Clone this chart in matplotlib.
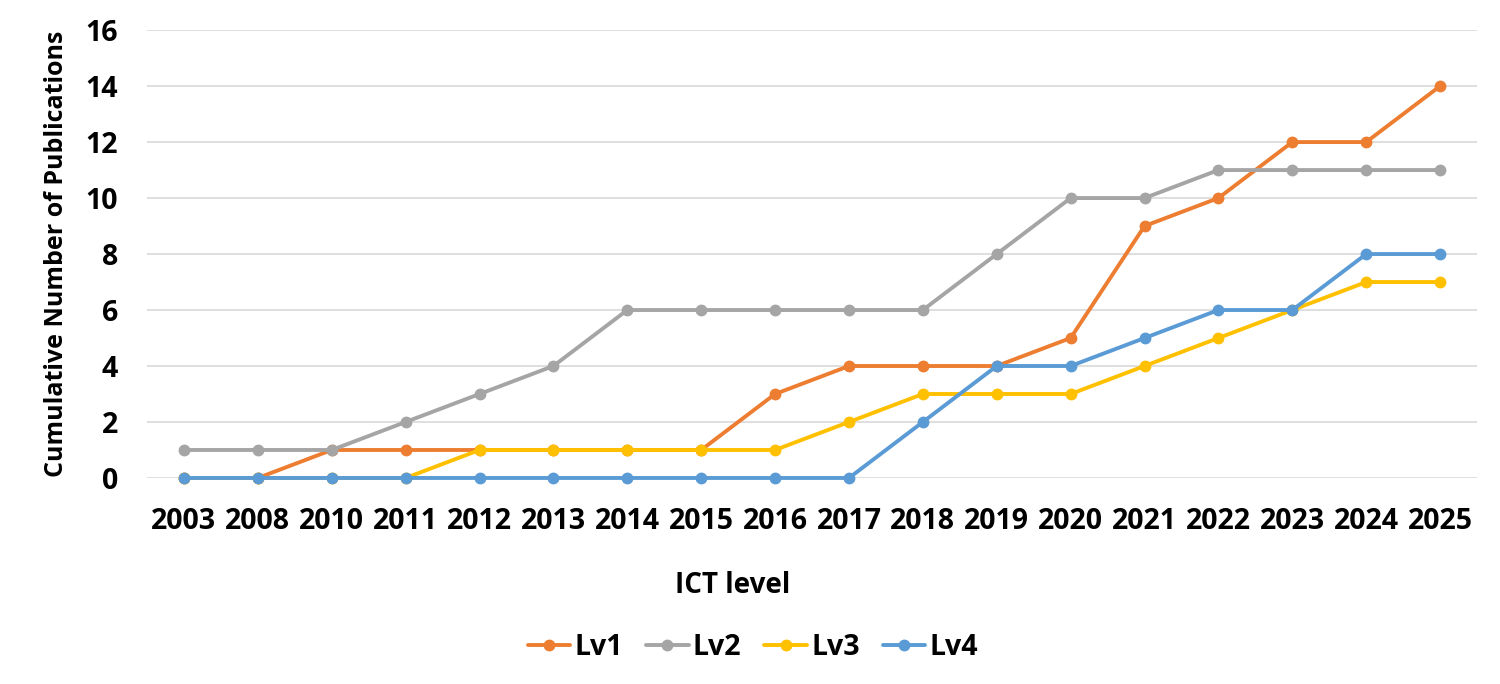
import matplotlib
matplotlib.use("Agg")
import matplotlib.pyplot as plt

years = ["2003", "2008", "2010", "2011", "2012", "2013", "2014", "2015", "2016",
         "2017", "2018", "2019", "2020", "2021", "2022", "2023", "2024", "2025"]
lv1 = [0, 0, 1, 1, 1, 1, 1, 1, 3, 4, 4, 4, 5, 9, 10, 12, 12, 14]
lv2 = [1, 1, 1, 2, 3, 4, 6, 6, 6, 6, 6, 8, 10, 10, 11, 11, 11, 11]
lv3 = [0, 0, 0, 0, 1, 1, 1, 1, 1, 2, 3, 3, 3, 4, 5, 6, 7, 7]
lv4 = [0, 0, 0, 0, 0, 0, 0, 0, 0, 0, 2, 4, 4, 5, 6, 6, 8, 8]
series_names = ["Lv1", "Lv2", "Lv3", "Lv4"]
colors = ["#ED7D31", "#A5A5A5", "#FFC000", "#5B9BD5"]

plt.rcParams['font.family'] = ['Open Sans', 'DejaVu Sans']
plt.rcParams['font.weight'] = 'bold'

fig = plt.figure(figsize=(15, 6.84), dpi=100)
ax = fig.add_axes([0.098, 0.3012, 0.8867, 0.6548])

x = list(range(len(years)))
for name, vals, c in zip(series_names, [lv1, lv2, lv3, lv4], colors):
    ax.plot(x, vals, color=c, lw=2.8, marker='o', markersize=7.5, label=name,
            solid_capstyle='round', solid_joinstyle='round')

ax.set_xlim(-0.5, len(years) - 0.5)
ax.set_ylim(0, 16)
ax.set_yticks(range(0, 17, 2))
ax.set_xticks(x)
ax.set_xticklabels(years)
ax.tick_params(axis='both', length=0, labelsize=20.5)
ax.tick_params(axis='x', pad=21)
ax.tick_params(axis='y', pad=21)
for lab in ax.get_xticklabels() + ax.get_yticklabels():
    lab.set_fontweight('bold')
ax.grid(axis='y', color='#D9D9D9', lw=1.2)
ax.set_axisbelow(True)
for s in ax.spines.values():
    s.set_visible(False)
for ln in ax.lines:
    ln.set_clip_on(False)

ax.set_ylabel("Cumulative Number of Publications", fontsize=18, fontweight='bold', labelpad=12)
ax.set_xlabel("ICT level", fontsize=20, fontweight='bold')
ax.xaxis.set_label_coords(0.44, -0.208)

leg = fig.legend(loc='center', bbox_to_anchor=(0.502, 0.054), ncol=4, frameon=False,
                 fontsize=20.5, handlelength=1.5, columnspacing=0.8, handletextpad=0.15)
for t in leg.get_texts():
    t.set_fontweight('bold')

fig.savefig("out.png", dpi=100)
